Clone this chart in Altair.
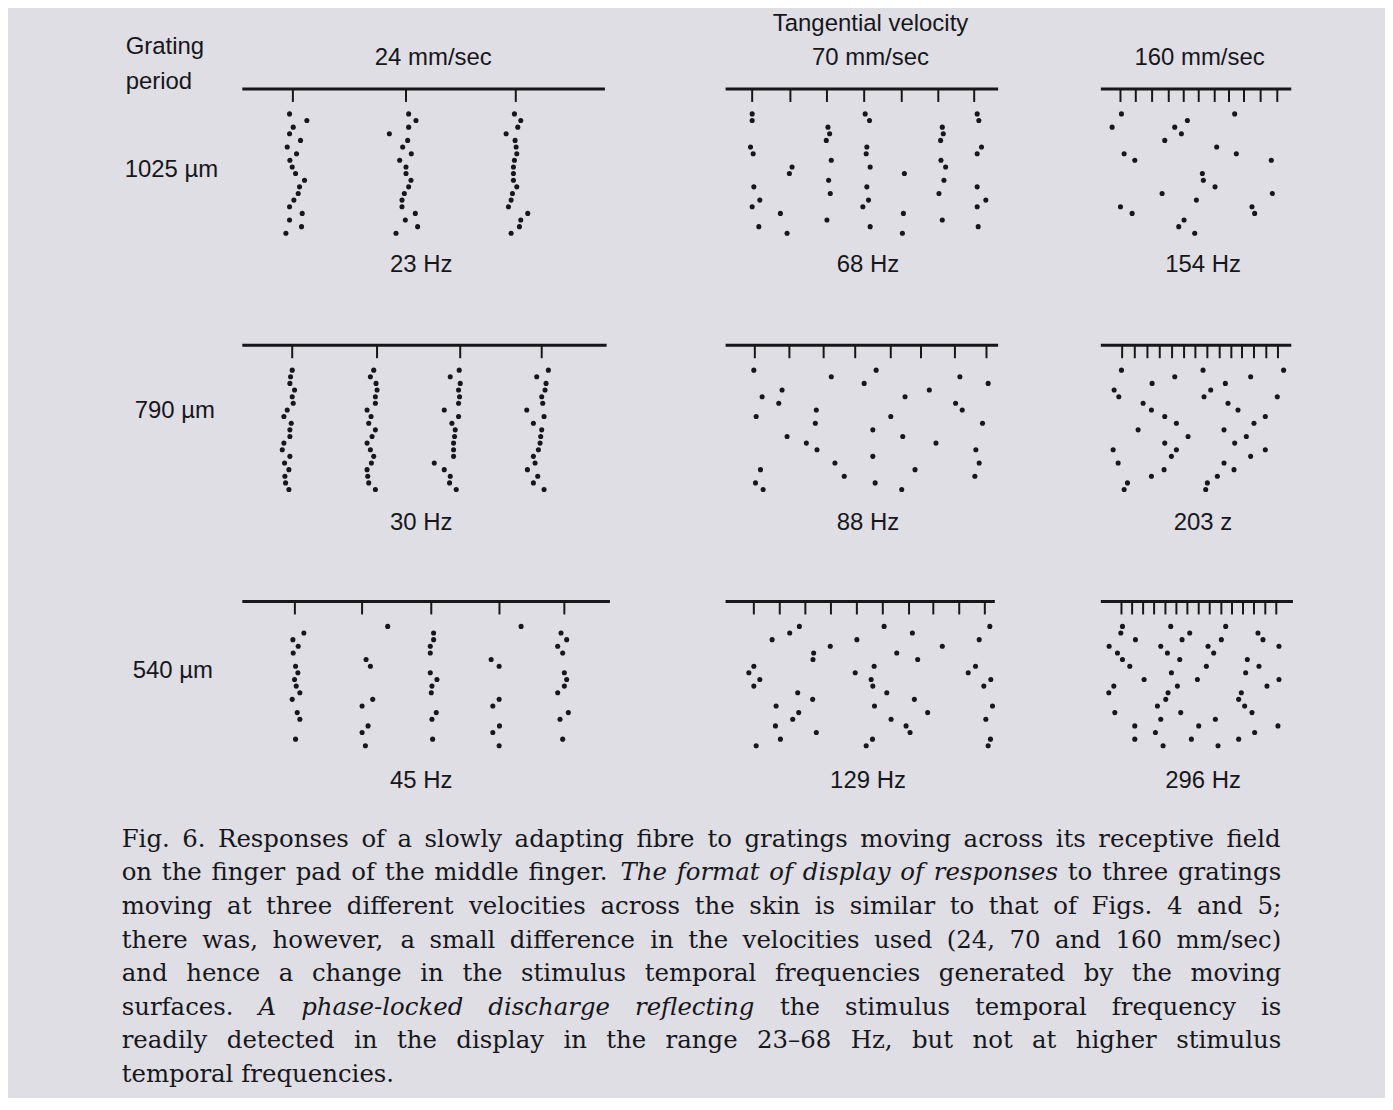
import glob
import os
import struct

import altair as alt
import pandas as pd

FONT = "Liberation Sans"
SERIF = "DejaVu Serif"
INK = "#17171b"
PAPER = "#dedee4"

# ---------------- labels ----------------
GRATING = ["1025 µm", "790 µm", "540 µm"]
VELOCITY = ["24 mm/sec", ["Tangential velocity", "70 mm/sec"], "160 mm/sec"]
FREQ = [["23 Hz", "68 Hz", "154 Hz"],
        ["30 Hz", "88 Hz", "203 z"],
        ["45 Hz", "129 Hz", "296 Hz"]]

# ---------------- spike rasters (trial number, spike time in ms) ----------------
# Row 1: 1025 um grating
A_trial = [1, 2, 3, 4, 5, 6, 7, 8, 9, 10, 11, 12, 13, 14, 15, 16, 17, 18, 19,
           1, 2, 3, 4, 5, 6, 7, 8, 9, 10, 11, 12, 13, 14, 15, 16, 17, 18, 19,
           1, 2, 3, 4, 5, 6, 7, 8, 9, 10, 11, 12, 13, 14, 15, 16, 17, 18, 19]
A_time = [14.2, 19.4, 15.3, 14.2, 17.5, 13.5, 16.3, 14.3, 15.0, 16.0, 18.7, 17.2, 16.8, 15.5, 14.2, 18.0, 14.2, 17.8, 13.1,
          50.0, 52.2, 50.0, 44.2, 49.7, 48.2, 50.8, 47.3, 49.2, 49.2, 50.7, 50.0, 48.7, 48.0, 48.0, 52.0, 49.0, 52.7, 46.2,
          81.8, 83.7, 82.8, 79.3, 82.0, 82.3, 82.5, 81.8, 81.5, 81.5, 81.5, 82.5, 81.2, 80.8, 80.0, 85.8, 83.7, 83.3, 80.8]
A_ticks = [15.2, 49.2, 82.2]
A_end = 109.0

B_trial = [1, 2, 6, 7, 12, 14, 15, 18,
           9, 10, 16, 19,
           3, 4, 5, 8, 11, 13, 17,
           1, 2, 6, 7, 9, 12, 14, 15, 18,
           10, 16, 19,
           3, 4, 5, 8, 9, 11, 13, 17,
           1, 2, 6, 7, 12, 14, 15, 18]
B_time = [8.0, 8.0, 7.5, 8.3, 8.5, 10.3, 8.0, 10.0,
          20.0, 19.2, 16.5, 18.5,
          30.8, 31.3, 30.3, 31.8, 31.0, 31.5, 30.5,
          42.0, 43.3, 42.5, 42.3, 43.5, 42.5, 43.0, 41.3, 43.5,
          53.8, 53.5, 53.2,
          65.2, 65.5, 64.7, 64.8, 66.2, 65.7, 64.2, 65.2,
          75.7, 76.2, 77.0, 75.7, 75.7, 78.3, 75.7, 76.0]
B_ticks = [8.0, 19.5, 30.5, 41.7, 53.0, 64.0, 74.8]
B_end = 82.0

C_trial = [1, 3, 7, 8, 15, 16, 2, 3, 4, 5, 13, 14, 17, 18, 19,
           6, 10, 11, 12, 1, 7, 8, 13, 15, 16]
C_time = [6.2, 3.4, 7.0, 10.2, 5.9, 9.4, 26.0, 22.2, 24.2, 19.2, 18.4, 28.7, 25.0, 23.4, 28.2,
          34.8, 30.5, 30.8, 34.3, 40.2, 40.7, 51.2, 51.5, 45.4, 46.2]
C_ticks = [5.9, 10.5, 15.4, 20.4, 24.9, 29.4, 34.2, 38.5, 43.0, 48.0, 53.0]
C_end = 57.2

# Row 2: 790 um grating
D_trial = [1, 2, 3, 4, 5, 6, 7, 8, 9, 10, 11, 12, 13, 14, 15, 16, 17, 18, 19,
           1, 2, 3, 4, 5, 6, 7, 8, 9, 10, 11, 12, 13, 14, 15, 16, 17, 18, 19,
           1, 2, 3, 4, 5, 6, 7, 8, 9, 10, 11, 12, 13, 14, 15, 16, 17, 18, 19,
           1, 2, 3, 4, 5, 6, 7, 8, 9, 10, 11, 12, 13, 14, 15, 16, 17, 18, 19]
D_time = [15.0, 14.5, 14.3, 15.7, 15.0, 15.3, 13.5, 12.5, 14.7, 14.3, 14.3, 12.5, 12.0, 14.3, 12.7, 14.0, 12.8, 13.0, 14.0,
          39.5, 38.5, 40.2, 40.5, 40.0, 40.0, 37.5, 38.7, 38.0, 40.0, 39.0, 37.5, 38.5, 39.5, 38.8, 37.5, 37.7, 38.0, 40.0,
          65.2, 62.5, 65.5, 65.0, 65.3, 65.0, 60.7, 65.0, 63.0, 64.0, 63.8, 63.5, 63.5, 63.5, 57.7, 60.7, 62.5, 62.3, 64.3,
          92.0, 88.5, 91.3, 91.0, 90.0, 90.3, 85.5, 90.7, 87.5, 90.0, 89.7, 89.5, 89.0, 87.5, 88.0, 85.7, 88.8, 87.5, 90.7]
D_ticks = [15.0, 40.5, 65.5, 90.0]
D_end = 109.5

E_trial = [1, 2, 1, 3, 2, 3, 4, 5, 4, 5, 6, 6, 7, 7, 8, 8, 9, 9, 10, 11, 11, 12, 12, 13, 13,
           14, 15, 15, 16, 16, 17, 17, 18, 18, 19, 19]
E_time = [8.5, 31.8, 45.3, 41.7, 70.5, 79.0, 17.0, 11.0, 61.3, 54.0, 16.0, 69.2, 71.2, 27.3, 9.2,
          49.7, 27.0, 77.3, 44.3, 18.5, 53.3, 24.3, 63.3, 27.5, 75.3, 44.3, 32.9, 76.3, 10.5, 57.0,
          35.7, 75.0, 9.0, 45.0, 11.3, 53.0]
E_ticks = [8.8, 19.2, 29.5, 39.0, 49.7, 58.8, 69.0, 78.5]
E_end = 82.0

F_trial = [1, 1, 1, 2, 2, 3, 3, 4, 4, 5, 5, 5, 6, 6, 7, 7, 8, 8, 9, 9, 10, 10, 11, 11, 12, 12,
           13, 13, 13, 14, 14, 15, 15, 16, 16, 17, 17, 18, 18, 19, 19]
F_time = [6.2, 30.7, 54.9, 22.2, 45.0, 15.4, 37.4, 4.0, 33.0, 5.4, 31.0, 53.0, 12.7, 38.2, 15.2,
          41.2, 19.2, 49.4, 22.7, 46.0, 11.2, 37.0, 26.2, 43.7, 19.2, 40.2, 3.7, 22.7, 49.4, 21.2,
          45.0, 5.2, 37.0, 19.0, 40.0, 15.2, 35.0, 8.0, 32.0, 7.0, 31.5]
F_ticks = [6.4, 10.2, 14.0, 17.7, 21.4, 25.0, 28.4, 32.0, 35.7, 39.2, 42.4, 46.0, 49.7, 53.2]
F_end = 57.2

# Row 3: 540 um grating
G_trial = [2, 3, 4, 5, 7, 8, 9, 10, 11, 12, 14, 15, 18,
           1, 6, 7, 12, 13, 16, 17, 19,
           2, 3, 4, 5, 8, 9, 10, 11, 14, 15, 18,
           1, 6, 7, 12, 13, 16, 17, 19,
           2, 3, 4, 5, 8, 9, 10, 11, 14, 15, 18]
G_time = [18.5, 15.2, 16.8, 15.3, 16.0, 16.7, 15.7, 16.2, 17.3, 15.0, 16.5, 17.3, 16.0,
          43.7, 37.2, 38.5, 39.2, 36.0, 37.8, 36.0, 37.0,
          57.5, 57.5, 56.5, 56.5, 56.5, 58.5, 57.0, 56.8, 58.3, 57.0, 57.2,
          83.8, 74.8, 77.2, 77.2, 75.3, 77.3, 75.3, 77.2,
          95.8, 97.5, 94.8, 96.3, 96.8, 97.5, 96.8, 94.8, 98.0, 95.5, 96.3]
G_ticks = [15.8, 36.0, 56.8, 77.3, 96.8]
G_end = 110.5

H_trial = [1, 1, 1, 2, 2, 3, 3, 3, 4, 4, 5, 5, 6, 6, 7, 7, 7, 8, 8, 8, 9, 9, 9, 10, 10, 10,
           11, 11, 12, 12, 13, 13, 13, 14, 14, 15, 15, 15, 16, 16, 17, 17, 18, 18, 18, 19, 19, 19]
H_time = [22.2, 47.7, 79.5, 19.3, 56.2, 14.0, 39.5, 76.3, 31.5, 65.2, 26.5, 51.5, 26.3, 57.8,
          8.5, 44.7, 75.2, 7.0, 39.0, 73.0, 10.3, 43.8, 79.8, 8.5, 44.3, 77.7, 21.7, 48.5, 26.2,
          56.8, 15.2, 44.8, 80.3, 22.0, 60.8, 20.2, 49.8, 78.3, 15.0, 54.3, 27.3, 55.5, 16.5, 44.2,
          79.7, 9.2, 42.3, 79.0]
H_ticks = [8.5, 16.3, 24.0, 31.7, 39.5, 47.3, 55.2, 62.5, 70.3, 78.0]
H_end = 81.0

I_trial = [1, 1, 1, 2, 2, 2, 3, 3, 3, 3, 4, 4, 4, 4, 5, 5, 5, 6, 6, 6, 7, 7, 7, 8, 8, 9, 9, 9,
           10, 10, 10, 11, 11, 11, 12, 12, 13, 13, 14, 14, 14, 15, 15, 16, 16, 16, 17, 17,
           18, 18, 18, 19, 19]
I_time = [6.5, 21.0, 37.5, 6.0, 26.7, 47.2, 10.4, 24.4, 36.2, 48.7, 2.5, 18.0, 32.2, 53.5, 5.0,
          20.0, 33.9, 6.5, 23.7, 44.0, 8.7, 31.7, 47.5, 21.2, 43.5, 13.0, 29.0, 53.5, 3.9, 23.0,
          49.9, 2.4, 20.2, 42.2, 19.5, 41.4, 17.0, 43.2, 4.2, 24.0, 45.4, 18.0, 34.4, 10.2, 29.4,
          53.2, 16.4, 46.2, 10.2, 27.2, 41.4, 18.7, 35.2]
I_ticks = [6.2, 9.4, 12.7, 16.0, 19.4, 22.7, 26.0, 29.4, 32.7, 36.2, 39.4, 42.7, 46.0, 49.4, 52.7]
I_end = 57.7

PANELS = [
    [(A_trial, A_time, A_ticks, A_end), (B_trial, B_time, B_ticks, B_end), (C_trial, C_time, C_ticks, C_end)],
    [(D_trial, D_time, D_ticks, D_end), (E_trial, E_time, E_ticks, E_end), (F_trial, F_time, F_ticks, F_end)],
    [(G_trial, G_time, G_ticks, G_end), (H_trial, H_time, H_ticks, H_end), (I_trial, I_time, I_ticks, I_end)],
]

# ---------------- caption ----------------
CAPTION_LINES = [
    "Fig. 6. Responses of a slowly adapting fibre to gratings moving across its receptive field",
    "on the finger pad of the middle finger. The format of display of responses to three gratings",
    "moving at three different velocities across the skin is similar to that of Figs. 4 and 5;",
    "there was, however, a small difference in the velocities used (24, 70 and 160 mm/sec)",
    "and hence a change in the stimulus temporal frequencies generated by the moving",
    "surfaces. A phase-locked discharge reflecting the stimulus temporal frequency is",
    "readily detected in the display in the range 23\u201368 Hz, but not at higher stimulus",
    "temporal frequencies.",
]
CAPTION_ITALIC = ["", "The format of display of responses", "", "", "",
                  "A phase-locked discharge reflecting", "", ""]

# ---------------- layout / style constants ----------------
COL_DOMAIN = [[0, 110], [-4.4, 82], [0, 57.5]]
COL_WIDTH = [367, 288, 192]
COL_TITLE_DX = [8, 16, 3]
FREQ_X = [179, 157, 102]
FREQ_Y = [25, 26, 28]
PANEL_H = 153
TRIAL_DOMAIN = [-3, 20]
LINE_LEVEL = -2.75
TICK_END = -0.8
LABEL_X = [3, 13, 11]
LABEL_Y = [82.7, 67.7, 71.7]
CAPTION_WIDTH = 1163
CAPTION_SIZE = 24.5


# ---------- text measuring (for justified caption lines) ----------
def find_font(name):
    for root in ["/usr/share/fonts", "/usr/local/share/fonts", os.path.expanduser("~/.fonts"),
                 os.path.expanduser("~/.local/share/fonts")]:
        hits = glob.glob(os.path.join(root, "**", name), recursive=True)
        if hits:
            return hits[0]
    return None


def font_measurer(path):
    with open(path, "rb") as f:
        data = f.read()
    num_tables = struct.unpack(">H", data[4:6])[0]
    tables = {}
    for i in range(num_tables):
        tag, _cs, off, ln = struct.unpack(">4sIII", data[12 + 16 * i: 28 + 16 * i])
        tables[tag.decode("latin-1")] = off
    upem = struct.unpack(">H", data[tables["head"] + 18: tables["head"] + 20])[0]
    nhm = struct.unpack(">H", data[tables["hhea"] + 34: tables["hhea"] + 36])[0]
    hoff = tables["hmtx"]
    adv = [struct.unpack(">H", data[hoff + 4 * i: hoff + 4 * i + 2])[0] for i in range(nhm)]
    coff = tables["cmap"]
    nsub = struct.unpack(">H", data[coff + 2: coff + 4])[0]
    sub = None
    for i in range(nsub):
        pid, _eid, so = struct.unpack(">HHI", data[coff + 4 + 8 * i: coff + 12 + 8 * i])
        fmt = struct.unpack(">H", data[coff + so: coff + so + 2])[0]
        if fmt == 4 and pid in (0, 3):
            sub = coff + so
            break
    seg2 = struct.unpack(">H", data[sub + 6: sub + 8])[0]
    seg = seg2 // 2
    ends = struct.unpack(">%dH" % seg, data[sub + 14: sub + 14 + seg2])
    starts = struct.unpack(">%dH" % seg, data[sub + 16 + seg2: sub + 16 + 2 * seg2])
    deltas = struct.unpack(">%dh" % seg, data[sub + 16 + 2 * seg2: sub + 16 + 3 * seg2])
    rpos = sub + 16 + 3 * seg2
    roffs = struct.unpack(">%dH" % seg, data[rpos: rpos + seg2])

    def glyph(c):
        for k in range(seg):
            if ends[k] >= c:
                if starts[k] > c:
                    return 0
                if roffs[k] == 0:
                    return (c + deltas[k]) & 0xFFFF
                addr = rpos + 2 * k + roffs[k] + 2 * (c - starts[k])
                g = struct.unpack(">H", data[addr: addr + 2])[0]
                return (g + deltas[k]) & 0xFFFF if g else 0
        return 0

    def width(s, size):
        return sum(adv[min(glyph(ord(ch)), nhm - 1)] for ch in s) * size / upem

    return width


def approx_width(s, size):
    return len(s) * 0.545 * size


def caption_table():
    p_reg, p_ita = find_font("DejaVuSerif.ttf"), find_font("DejaVuSerif-Italic.ttf")
    try:
        w_reg = font_measurer(p_reg) if p_reg else approx_width
        w_ita = font_measurer(p_ita) if p_ita else w_reg
        exact = p_reg is not None
    except Exception:
        w_reg = w_ita = approx_width
        exact = False
    meas = {"normal": w_reg, "italic": w_ita}
    rows = []
    for i, text in enumerate(CAPTION_LINES):
        span = CAPTION_ITALIC[i]
        if span:
            a, b = text.split(span)
            parts = [(a, "normal"), (span, "italic"), (b, "normal")]
        else:
            parts = [(text, "normal")]
        if not exact:
            # natural setting, phrase by phrase
            x = 0.0
            for p, st in parts:
                p = p.strip()
                if p:
                    rows.append({"line": i + 1, "x": x, "style": st, "text": p})
                    x += approx_width(p + " ", CAPTION_SIZE)
            continue
        words = [(w, st) for p, st in parts for w in p.split()]
        widths = [meas[st](w, CAPTION_SIZE) for w, st in words]
        last = i == len(CAPTION_LINES) - 1
        if last or len(words) < 2:
            gap = w_reg(" ", CAPTION_SIZE)
        else:
            gap = (CAPTION_WIDTH - sum(widths)) / (len(words) - 1)
        x = 0.0
        for (w, st), wd in zip(words, widths):
            rows.append({"line": i + 1, "x": x, "style": st, "text": w})
            x += wd + gap
    return pd.DataFrame(rows)


def panel(r, c):
    trials, times, ticks, end = PANELS[r][c]
    xs = alt.Scale(domain=COL_DOMAIN[c], nice=False, zero=False)
    ys = alt.Scale(domain=TRIAL_DOMAIN, reverse=True, nice=False, zero=False)
    xaxis = alt.Axis(title=FREQ[r][c], labels=False, ticks=False, domain=False, grid=False,
                     titleFont=FONT, titleFontSize=24, titleFontWeight="normal", titleColor=INK,
                     titleX=FREQ_X[c], titleY=FREQ_Y[r], titleBaseline="middle", titleAlign="center")
    stim = pd.DataFrame({"start": [0.0], "end": [end], "level": [LINE_LEVEL]})
    tk = pd.DataFrame({"t": ticks})
    tk["top"] = LINE_LEVEL
    tk["bottom"] = TICK_END
    spikes = pd.DataFrame({"trial": trials, "time": times})

    line = alt.Chart(stim).mark_rule(color=INK, strokeWidth=3.2).encode(
        x=alt.X("start:Q", scale=xs, axis=xaxis), x2="end:Q",
        y=alt.Y("level:Q", scale=ys, axis=None))
    tick = alt.Chart(tk).mark_rule(color=INK, strokeWidth=2).encode(
        x=alt.X("t:Q", scale=xs, axis=xaxis),
        y=alt.Y("top:Q", scale=ys, axis=None), y2="bottom:Q")
    dots = alt.Chart(spikes).mark_circle(color=INK, size=26, opacity=1).encode(
        x=alt.X("time:Q", scale=xs, axis=xaxis),
        y=alt.Y("trial:Q", scale=ys, axis=None))
    ch = alt.layer(line, tick, dots).properties(width=COL_WIDTH[c], height=PANEL_H)
    if r == 0:
        ch = ch.properties(title=alt.TitleParams(
            VELOCITY[c], font=FONT, fontSize=24, fontWeight="normal", color=INK,
            anchor="middle", frame="group", dx=COL_TITLE_DX[c], offset=17, lineHeight=35))
    return ch


def label_panel(r):
    df = pd.DataFrame({"label": [GRATING[r]]})
    ch = alt.Chart(df).mark_text(align="left", baseline="middle", font=FONT, fontSize=24,
                                 color=INK).encode(
        text="label:N", x=alt.value(LABEL_X[r]), y=alt.value(LABEL_Y[r])
    ).properties(width=18, height=PANEL_H)
    if r == 0:
        ch = ch.properties(title=alt.TitleParams(
            ["Grating", "period"], font=FONT, fontSize=24, fontWeight="normal", color=INK,
            anchor="start", frame="group", dx=4, offset=-7, lineHeight=35))
    return ch


cap = caption_table()
cx = alt.Scale(domain=[0, CAPTION_WIDTH], range=[0, CAPTION_WIDTH], nice=False, zero=False)
cy = alt.Scale(domain=[1.4837, 8.487], reverse=True, nice=False, zero=False)
cap_base = alt.Chart(cap).encode(
    x=alt.X("x:Q", scale=cx, axis=None),
    y=alt.Y("line:Q", scale=cy, axis=None),
    text="text:N")
cap_regular = cap_base.transform_filter(alt.datum.style == "normal").mark_text(
    align="left", baseline="middle", font=SERIF, fontSize=CAPTION_SIZE, color=INK)
cap_italic = cap_base.transform_filter(alt.datum.style == "italic").mark_text(
    align="left", baseline="middle", font=SERIF, fontSize=CAPTION_SIZE, fontStyle="italic",
    color=INK)
caption = alt.layer(cap_regular, cap_italic).properties(width=18, height=236)

cells = []
for r in range(3):
    cells.append(label_panel(r))
    for c in range(3):
        cells.append(panel(r, c))
cells.append(caption)

chart = alt.concat(
    *cells, columns=4, spacing={"row": 104, "column": 103}, bounds="flush", align="each"
).properties(
    padding={"left": 114, "top": 2, "right": 90, "bottom": 5},
    background=PAPER,
).configure_view(stroke=None)

chart.save("out.html", embed_options={"renderer": "svg", "actions": False})
